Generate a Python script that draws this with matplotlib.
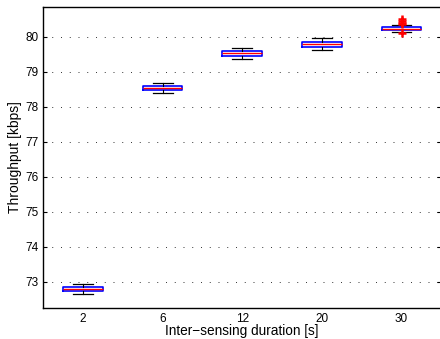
import matplotlib
matplotlib.use("Agg")
import matplotlib.pyplot as plt

plt.rcParams['font.family'] = ['Liberation Sans', 'DejaVu Sans']

categories = ['2', '6', '12', '20', '30']
medians = [72.79, 78.54, 79.53, 79.80, 80.23]
q1 = [72.73, 78.48, 79.46, 79.72, 80.20]
q3 = [72.84, 78.60, 79.59, 79.86, 80.27]
whislo = [72.65, 78.40, 79.38, 79.62, 80.14]
whishi = [72.93, 78.69, 79.69, 79.98, 80.33]
fliers = [[], [], [], [], [80.50, 80.44, 80.41, 80.38, 80.10]]
yticks = [73, 74, 75, 76, 77, 78, 79, 80]

stats = []
for i in range(len(categories)):
    stats.append(dict(med=medians[i], q1=q1[i], q3=q3[i], whislo=whislo[i],
                      whishi=whishi[i], fliers=fliers[i], label=categories[i]))

fig = plt.figure(figsize=(4.4, 3.39), dpi=100)
ax = fig.add_axes([0.098, 0.092, 0.905, 0.887])

positions = list(range(1, len(categories) + 1))
ax.bxp(stats, positions=positions, widths=0.5, showfliers=True,
       boxprops=dict(color='#0000ff', linewidth=1.2),
       medianprops=dict(color='#ff0000', linewidth=1.0),
       whiskerprops=dict(color='black', linewidth=0.8),
       capprops=dict(color='black', linewidth=0.9),
       capwidths=0.25,
       flierprops=dict(marker='+', markeredgecolor='#ff0000', markersize=6,
                       markeredgewidth=1.8, linestyle='none'))

ax.set_xlim(0.5, 5.5)
ax.set_ylim(72.25, 80.85)
ax.set_yticks(yticks)
ax.set_xticks(positions)
ax.set_xticklabels(categories)
ax.yaxis.grid(True, linestyle=(0, (1, 8)), color='#333333', linewidth=0.7)
ax.xaxis.grid(False)
ax.tick_params(axis='both', direction='in', labelsize=8.5, length=3, width=0.8,
               right=True, top=False, pad=3)
ax.tick_params(axis='x', length=0, pad=4)
for s in ax.spines.values():
    s.set_linewidth(1.0)
ax.set_xlabel('Inter\u2212sensing duration [s]', fontsize=9.8, labelpad=-1)
ax.set_ylabel('Throughput [kbps]', fontsize=10, labelpad=3)

fig.savefig('out.png', dpi=100)
